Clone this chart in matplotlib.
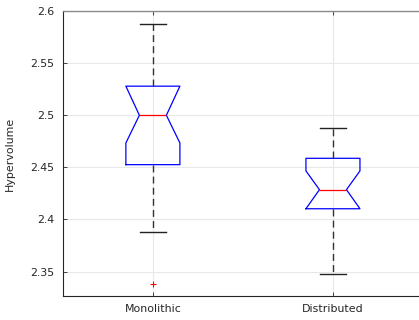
import numpy as np
import matplotlib
matplotlib.use('Agg')
import matplotlib.pyplot as plt

# Box statistics
labels = ['Monolithic', 'Distributed']
med = [2.500, 2.4286]
q1 = [2.4526, 2.4103]
q3 = [2.5279, 2.4587]
whislo = [2.3882, 2.3478]
whishi = [2.5878, 2.4878]
cilo = [2.4734, 2.4103]
cihi = [2.5279, 2.4466]
fliers = [[2.3378], []]

yticks = [2.35, 2.4, 2.45, 2.5, 2.55, 2.6]
yticklabels = ['2.35', '2.4', '2.45', '2.5', '2.55', '2.6']

plt.rcParams['font.family'] = ['DejaVu Sans']
fs = 7.9

stats = []
for i in range(len(labels)):
    stats.append(dict(label=labels[i], med=med[i], q1=q1[i], q3=q3[i],
                      whislo=whislo[i], whishi=whishi[i],
                      cilo=cilo[i], cihi=cihi[i], fliers=fliers[i]))

fig = plt.figure(figsize=(4.19, 3.2), dpi=100)
ax = fig.add_axes([0.150, 0.075, 0.8595, 0.8906])

ax.bxp(stats, positions=[1, 2], widths=0.3, capwidths=0.145, shownotches=True,
       boxprops=dict(color='#0000ff', linewidth=0.9),
       medianprops=dict(color='#ff0000', linewidth=0.9),
       whiskerprops=dict(color='#333333', linestyle=(0, (5, 3)), linewidth=1.0),
       capprops=dict(color='#222222', linewidth=1.0),
       flierprops=dict(marker='+', markeredgecolor='#ff0000', markersize=5,
                       markeredgewidth=0.8, linestyle='none'))

ax.set_xlim(0.5, 2.5)
ax.set_ylim(2.3266, 2.6)
ax.set_yticks(yticks)
ax.set_yticklabels(yticklabels)
ax.set_xticks([1, 2])
ax.set_xticklabels(labels)
ax.set_ylabel('Hypervolume', color='#262626', fontsize=fs, labelpad=11)

ax.grid(True, color='#e8e8e8', linewidth=0.8)
ax.set_axisbelow(True)
ax.tick_params(direction='in', length=3, width=0.6, colors='#262626',
               top=True, labelsize=fs)
ax.tick_params(axis='y', pad=6.3)
ax.tick_params(axis='x', pad=5.8)
for s in ['left', 'bottom']:
    ax.spines[s].set_color('#262626')
    ax.spines[s].set_linewidth(0.8)
ax.spines['top'].set_color('#8a8a8a')
ax.spines['top'].set_linewidth(1.0)
ax.spines['right'].set_visible(False)

fig.savefig('out.png', dpi=100)
